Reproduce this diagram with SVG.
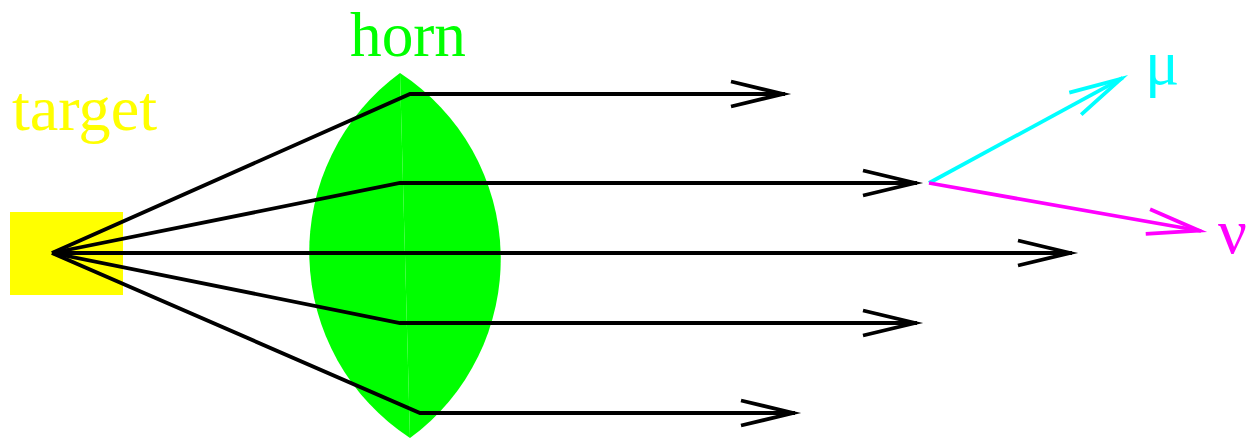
<svg xmlns="http://www.w3.org/2000/svg" width="1252" height="439" viewBox="0 0 1252 439">
<style>
.lbl{font-family:"Liberation Serif","Times New Roman",serif;font-size:64px}
.ray{fill:none;stroke:#000;stroke-width:3.8;stroke-linejoin:miter}
.ah{fill:none;stroke-width:3.8;stroke-linejoin:miter;stroke-miterlimit:10}
</style>
<defs>
<marker id="ak" markerUnits="userSpaceOnUse" markerWidth="80" markerHeight="40" viewBox="-70 -20 80 40" refX="0" refY="0" orient="auto" overflow="visible">
<path class="ah" stroke="#000" d="M-54,-12.5 L-2,0 L-54,12.5"/>
</marker>
<marker id="ac" markerUnits="userSpaceOnUse" markerWidth="80" markerHeight="40" viewBox="-70 -20 80 40" refX="0" refY="0" orient="auto" overflow="visible">
<path class="ah" stroke="#00ffff" d="M-54,-12.5 L-2,0 L-54,12.5"/>
</marker>
<marker id="am" markerUnits="userSpaceOnUse" markerWidth="80" markerHeight="40" viewBox="-70 -20 80 40" refX="0" refY="0" orient="auto" overflow="visible">
<path class="ah" stroke="#ff00ff" d="M-54,-12.5 L-2,0 L-54,12.5"/>
</marker>
</defs>
<g id="target">
<rect x="10" y="212" width="113" height="83" fill="#ffff00"/>
<text class="lbl" x="12" y="130" fill="#ffff00" textLength="145" lengthAdjust="spacingAndGlyphs">target</text>
</g>
<g id="horn">
<path d="M400,73 A222,222 0 0 0 410,438 Z" fill="#00ff00"/>
<path d="M400,73 A222,222 0 0 1 410,438 Z" fill="#00ff00"/>
<text class="lbl" x="350" y="56" font-size="58" fill="#00ff00" textLength="116" lengthAdjust="spacingAndGlyphs">horn</text>
</g>
<g id="mu-label">
<text class="lbl" x="1145" y="84" font-size="76" fill="#00ffff">μ</text>
</g>
<g id="nu-label">
<text class="lbl" x="1218" y="253" font-size="70" fill="#ff00ff">ν</text>
</g>
<g id="connectors">
<polyline class="ray" points="52,253 410,94 785,94" marker-end="url(#ak)"/>
<polyline class="ray" points="52,253 400,183 917,183" marker-end="url(#ak)"/>
<polyline class="ray" points="52,253 1072,253" marker-end="url(#ak)"/>
<polyline class="ray" points="52,253 400,323 917,323" marker-end="url(#ak)"/>
<polyline class="ray" points="52,253 420,413 795,413" marker-end="url(#ak)"/>
<line x1="929" y1="183" x2="1122.7" y2="77.9" stroke="#00ffff" stroke-width="3.8" marker-end="url(#ac)"/>
<line x1="929" y1="183" x2="1201.1" y2="231" stroke="#ff00ff" stroke-width="3.8" marker-end="url(#am)"/>
</g>
</svg>
